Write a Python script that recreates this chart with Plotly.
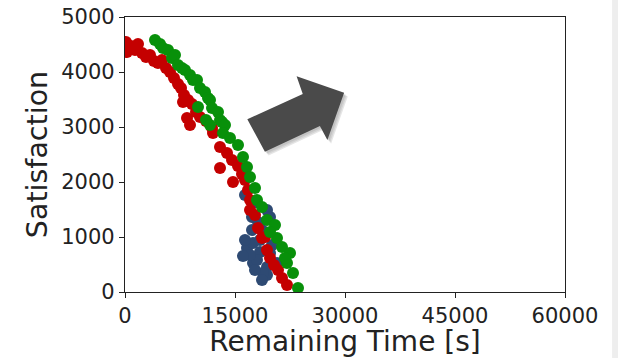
import plotly.graph_objects as go

# Data (Remaining Time [s], Satisfaction)
red_x = [136, 273, 818, 1364, 1773, 2318, 2864, 3409, 3955, 4500, 5045, 5591, 6136, 6682, 7227, 7636,
         8045, 7909, 8591, 9136, 8455, 8864, 9682, 10227, 11045, 11864, 12000, 12955, 12955, 13909,
         14591, 14727, 15409, 15955, 16364, 16773, 17045, 17045, 17727, 18136, 18682, 19091, 19364,
         19773, 20318, 20864, 21409, 22091]
red_y = [4545, 4364, 4473, 4400, 4509, 4345, 4273, 4309, 4200, 4164, 4218, 4073, 4000, 3891, 3782, 3709,
         3582, 3455, 3491, 3418, 3164, 3036, 3273, 3182, 3109, 2982, 2891, 2636, 2255, 2527,
         2400, 2000, 2291, 2145, 2036, 1855, 1673, 1491, 1400, 1164, 982, 1000, 764,
         618, 491, 400, 255, 127]

green_x = [4091, 4773, 5182, 5864, 6409, 6818, 7227, 7773, 8182, 8864, 9273, 9818, 10227, 10909, 11318,
           11591, 11864, 9955, 11045, 12682, 12955, 13227, 13636, 11591, 13364, 14318, 15409, 16091,
           16636, 17045, 17727, 18000, 18682, 19364, 20455, 20727, 21409, 22500, 22091, 22909, 23591,
           19773, 21818]
green_y = [4582, 4509, 4436, 4400, 4255, 4309, 4127, 4073, 4036, 3945, 3855, 3855, 3709, 3636, 3527,
           3491, 3345, 3364, 3127, 3273, 3127, 3091, 3036, 3036, 2891, 2800, 2673, 2455,
           2273, 2091, 1891, 1673, 1545, 1309, 1218, 982, 818, 709, 527, 345, 73,
           1091, 618]

blue_x = [16364, 17455, 19364, 19773, 17318, 18136, 17318, 18682, 16636, 17455, 18409, 19773, 17455,
          19364, 19364, 20727, 18818, 18000, 16364, 17045, 18409, 20045, 16091, 18682, 17727]
blue_y = [1764, 1618, 1491, 1364, 1364, 1273, 1127, 1127, 800, 891, 727, 709, 527,
          455, 309, 527, 345, 582, 945, 673, 945, 855, 655, 218, 400]

x_ticks = [0, 15000, 30000, 45000, 60000]
y_ticks = [0, 1000, 2000, 3000, 4000, 5000]

RED = "#c40000"
GREEN = "#08900a"
BLUE = "#2e4a73"
MS = 12

fig = go.Figure()
for xs, ys, col in [(blue_x, blue_y, BLUE), (red_x, red_y, RED), (green_x, green_y, GREEN)]:
    fig.add_trace(go.Scatter(x=xs, y=ys, mode="markers",
                             marker=dict(color=col, size=MS, line=dict(width=0)),
                             showlegend=False, hoverinfo="skip"))

# Block arrow decoration (paper coordinates)
arrow = [(0.318, 0.510), (0.278, 0.628), (0.404, 0.720), (0.390, 0.785),
         (0.498, 0.725), (0.460, 0.553), (0.443, 0.604)]

def path(pts, dx=0.0, dy=0.0):
    return "M " + " L ".join(f"{x+dx:.4f},{y+dy:.4f}" for x, y in pts) + " Z"

shapes = []
for i, op in enumerate([0.08, 0.08, 0.10]):
    d = 0.006 + 0.004 * i
    shapes.append(dict(type="path", xref="paper", yref="paper", path=path(arrow, d * 0.6, -d),
                       fillcolor="#000000", opacity=op, line=dict(width=0), layer="above"))
shapes.append(dict(type="path", xref="paper", yref="paper", path=path(arrow),
                   fillcolor="#4a4a4a", line=dict(width=0), layer="above"))
# light gray strip at far right of the image
shapes.append(dict(type="rect", xref="paper", yref="paper", x0=1.107, x1=1.13, y0=-0.3, y1=1.1,
                   fillcolor="#eeeeee", line=dict(width=0), layer="below"))

axis_common = dict(showgrid=False, zeroline=False, showline=True, linecolor="#222222", linewidth=1.2,
                   mirror=True, ticks="outside", ticklen=5, tickwidth=1.2, tickcolor="#222222",
                   automargin=False,
                   tickfont=dict(family="DejaVu Sans", size=21, color="#222222"))

fig.update_layout(
    width=618, height=358,
    margin=dict(l=125, r=53, t=17, b=66),
    paper_bgcolor="white", plot_bgcolor="white",
    shapes=shapes,
    xaxis=dict(range=[0, 60000], tickvals=x_ticks, ticktext=[str(v) for v in x_ticks],
               title=dict(text="Remaining Time [s]", font=dict(family="DejaVu Sans", size=28, color="#222222"),
                          standoff=2),
               **axis_common),
    yaxis=dict(range=[0, 5000], tickvals=y_ticks, ticktext=[str(v) for v in y_ticks],
               title=dict(text="Satisfaction", font=dict(family="DejaVu Sans", size=28.5, color="#222222"),
                          standoff=5),
               **axis_common),
)

fig.write_html("out.html", config={"displayModeBar": False},
               post_script="document.body.style.margin='0px';document.body.style.overflow='hidden';")
